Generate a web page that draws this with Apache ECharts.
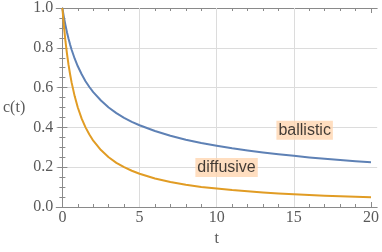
<!DOCTYPE html>
<html>
<head>
<meta charset="utf-8">
<script src="https://cdn.jsdelivr.net/npm/echarts@6/dist/echarts.min.js"></script>
<style>html,body{margin:0;padding:0;background:#fff;}#c{width:382px;height:252px;}</style>
</head>
<body>
<div id="c"></div>
<script>
// Data
const tValues   = [0, 0.1, 0.2, 0.3, 0.4, 0.5, 0.6, 0.8, 1.0, 1.25, 1.5, 1.75, 2, 2.5, 3, 3.5, 4, 4.5, 5, 6, 7, 8, 9, 10, 11, 12, 13, 14, 15, 16, 17, 18, 19, 20];
const ballistic = [1.0, 0.953, 0.913, 0.877, 0.845, 0.816, 0.79, 0.745, 0.707, 0.667, 0.632, 0.603, 0.577, 0.535, 0.5, 0.472, 0.448, 0.428, 0.411, 0.382, 0.358, 0.338, 0.322, 0.308, 0.295, 0.284, 0.274, 0.265, 0.257, 0.249, 0.242, 0.236, 0.23, 0.225];
const diffusive = [1.0, 0.91, 0.833, 0.77, 0.714, 0.667, 0.625, 0.556, 0.5, 0.444, 0.4, 0.364, 0.333, 0.286, 0.25, 0.222, 0.2, 0.182, 0.167, 0.143, 0.126, 0.112, 0.101, 0.093, 0.085, 0.079, 0.073, 0.068, 0.064, 0.06, 0.057, 0.054, 0.051, 0.049];
const xMajorTicks = [0, 5, 10, 15, 20];
const xMinorTicks = [1, 2, 3, 4, 6, 7, 8, 9, 11, 12, 13, 14, 16, 17, 18, 19];
const xGridLines = [5, 10, 15];
const labelTexts = ['ballistic', 'diffusive'];
const labelPos = [[15.7, 0.386], [10.64, 0.198]];

const frameColor = '#8a8a8a';
const gridColor = '#dcdcdc';
const tickFont = {fontFamily: 'Liberation Serif', fontSize: 16, color: '#5a5a5a'};

function xAx(pos, ticks, len, opts) {
  return Object.assign({
    type: 'value', gridIndex: 0, position: pos, min: -0.4, max: 20.4,
    axisLine: {show: false},
    axisTick: {show: true, inside: true, length: len, customValues: ticks, lineStyle: {color: frameColor}},
    axisLabel: {show: false},
    splitLine: {show: false}
  }, opts || {});
}

const chart = echarts.init(document.getElementById('c'), null, {renderer: 'canvas'});
chart.setOption({
  animation: false,
  grid: {left: 56, right: 4, top: 8, bottom: 44.5, containLabel: false},
  xAxis: [
    xAx('bottom', xMajorTicks, 5, {
      axisLine: {show: true, lineStyle: {color: frameColor, width: 1}},
      axisLabel: Object.assign({show: true, customValues: xMajorTicks, margin: 3}, tickFont),
      name: 't', nameLocation: 'middle', nameGap: 24,
      nameTextStyle: {fontFamily: 'Liberation Serif', fontSize: 16, color: '#5a5a5a'}
    }),
    xAx('bottom', xMinorTicks, 3),
    xAx('top', xMajorTicks, 5, {axisLine: {show: true, lineStyle: {color: frameColor, width: 1}}}),
    xAx('top', xMinorTicks, 3)
  ],
  yAxis: [
    {
      type: 'value', position: 'left', min: 0, max: 1, interval: 0.2,
      axisLine: {show: true, lineStyle: {color: frameColor, width: 1}},
      axisTick: {show: true, inside: true, length: 5, lineStyle: {color: frameColor}},
      minorTick: {show: true, splitNumber: 4, length: 3, lineStyle: {color: frameColor}},
      axisLabel: Object.assign({formatter: v => v.toFixed(1), margin: 3}, tickFont),
      splitLine: {show: true, lineStyle: {color: gridColor, width: 1}},
      name: 'c(t)', nameLocation: 'middle', nameRotate: 0, nameGap: 31,
      nameTextStyle: {fontFamily: 'Liberation Serif', fontSize: 16, color: '#5a5a5a'}
    },
    {
      type: 'value', position: 'right', min: 0, max: 1, interval: 0.2,
      axisLine: {show: true, lineStyle: {color: frameColor, width: 1}},
      axisTick: {show: true, inside: true, length: 5, lineStyle: {color: frameColor}},
      minorTick: {show: true, splitNumber: 4, length: 3, lineStyle: {color: frameColor}},
      axisLabel: {show: false},
      splitLine: {show: false}
    }
  ],
  series: [
    {
      type: 'line', name: 'ballistic', xAxisIndex: 0, yAxisIndex: 0,
      data: tValues.map((t, i) => [t, ballistic[i]]),
      smooth: false, showSymbol: false, symbol: 'none',
      lineStyle: {color: '#5E81B5', width: 2, join: 'round'}, z: 3,
      markLine: {
        silent: true, symbol: 'none', label: {show: false}, z: 1,
        lineStyle: {color: gridColor, width: 1, type: 'solid'},
        data: xGridLines.map(v => ({xAxis: v}))
      }
    },
    {
      type: 'line', name: 'diffusive', xAxisIndex: 0, yAxisIndex: 0,
      data: tValues.map((t, i) => [t, diffusive[i]]),
      smooth: false, showSymbol: false, symbol: 'none',
      lineStyle: {color: '#E19C24', width: 2, join: 'round'}, z: 3
    },
    {
      type: 'scatter', xAxisIndex: 0, yAxisIndex: 0, symbolSize: 0, z: 5,
      data: labelPos.map((p, i) => ({value: p, name: labelTexts[i]})),
      label: {
        show: true, position: 'inside', formatter: p => p.name,
        fontFamily: 'Liberation Sans', fontSize: 16, color: '#111',
        backgroundColor: '#FFD6B0', padding: [1, 2, 1, 2], lineHeight: 17
      },
      emphasis: {disabled: true}, silent: true
    }
  ]
});
</script>
</body>
</html>
